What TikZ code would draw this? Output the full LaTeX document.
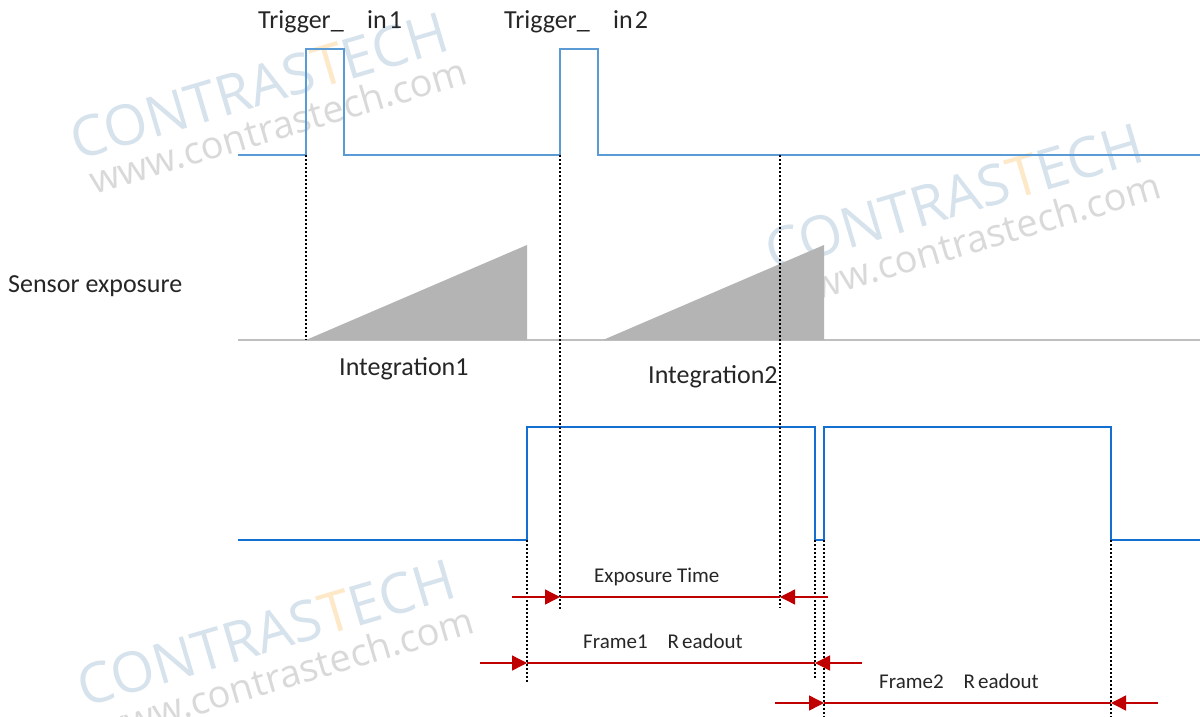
\documentclass[tikz,border=0pt]{standalone}
\usepackage{fontspec}
\setmainfont{Carlito}
\newfontfamily\wmfont{Open Sans}
\usetikzlibrary{arrows.meta}
\definecolor{trigblue}{RGB}{91,155,213}
\definecolor{sigblue}{RGB}{20,112,208}
\definecolor{arrred}{RGB}{192,0,0}
\definecolor{grayfill}{RGB}{180,180,180}
\definecolor{grayline}{RGB}{191,191,191}
\definecolor{txt}{RGB}{38,38,38}
\definecolor{wmblue}{RGB}{214,226,236}
\definecolor{wmorange}{RGB}{253,232,200}
\definecolor{wmgray}{RGB}{217,217,217}
\begin{document}
\begin{tikzpicture}[x=1pt,y=-1pt,
  trig/.style={draw=trigblue, line width=2pt},
  sig/.style={draw=sigblue, line width=2.6pt},
  base/.style={draw=grayline, line width=2pt},
  ramp/.style={fill=grayfill, draw=none},
  guide/.style={draw=black, line width=1.8pt, dash pattern=on 2pt off 2pt},
  dim/.style={draw=arrred, line width=1.4pt},
  tip/.style={draw=arrred, line width=1.4pt, -{Triangle[length=15pt,width=15pt]}},
  lbl/.style={anchor=base west, inner sep=0pt, text=txt, font=\fontsize{26}{30}\selectfont},
  slbl/.style={anchor=base west, inner sep=0pt, text=txt, font=\fontsize{21}{25}\selectfont},
  wmA/.style={anchor=base, inner sep=0pt, rotate=16.5, font=\wmfont\fontsize{56}{60}\selectfont},
  wmB/.style={anchor=base, inner sep=0pt, rotate=16.5, text=wmgray, font=\wmfont\fontsize{38}{42}\selectfont}
]
\useasboundingbox (0,0) rectangle (1200,717);
\fill[white] (0,0) rectangle (1200,717);

% watermarks
\foreach \px/\py/\qx/\qy [count=\i] in {265/105/282/139, 960/216/976/253, 272/652/289/688}{
  \node[wmA] (wmt\i) at (\px,\py) {\textcolor{wmblue}{CONTRAS}\textcolor{wmorange}{T}\textcolor{wmblue}{ECH}};
  \node[wmB] (wmw\i) at (\qx,\qy) {www.contrastech.com};
}

% coordinates
\coordinate (t0) at (238,155);
\coordinate (r1) at (306,155); \coordinate (r1h) at (306,49);
\coordinate (f1h) at (344,49); \coordinate (f1) at (344,155);
\coordinate (r2) at (560,155); \coordinate (r2h) at (560,49);
\coordinate (f2h) at (598,49); \coordinate (f2) at (598,155);
\coordinate (tend) at (1200,155);
\coordinate (xt) at (780,155);

\coordinate (s0) at (238,340); \coordinate (send) at (1200,340);
\coordinate (a1) at (306,340); \coordinate (a1t) at (527,245); \coordinate (a1b) at (527,340);
\coordinate (a2) at (603,340); \coordinate (a2t) at (824,245); \coordinate (a2b) at (824,340);

\coordinate (b0) at (238,540);
\coordinate (br1) at (527,540); \coordinate (br1h) at (527,427);
\coordinate (bf1h) at (815,427); \coordinate (bf1) at (815,540);
\coordinate (br2) at (824,540); \coordinate (br2h) at (824,427);
\coordinate (bf2h) at (1111,427); \coordinate (bf2) at (1111,540);
\coordinate (bend) at (1200,540);

% sensor exposure
\draw[base] (s0) -- (send);
\fill[ramp] (a1) -- (a1t) -- (a1b) -- cycle;
\fill[ramp] (a2) -- (a2t) -- (a2b) -- cycle;

% trigger signal
\draw[trig] (t0) -- (r1) -- (r1h) -- (f1h) -- (f1) -- (r2) -- (r2h) -- (f2h) -- (f2) -- (tend);

% output signal
\draw[sig] (b0) -- (br1) -- (br1h) -- (bf1h) -- (bf1) -- (br2) -- (br2h) -- (bf2h) -- (bf2) -- (bend);

% guide lines
\coordinate (g1e) at (306,340);
\coordinate (g2e) at (560,609);
\coordinate (g3e) at (780,608);
\coordinate (g4e) at (527,682);
\coordinate (g5e) at (815,678);
\coordinate (g6e) at (824,717);
\coordinate (g7e) at (1111,717);
\draw[guide] (r1) -- (g1e);
\draw[guide] (r2) -- (g2e);
\draw[guide] (xt) -- (g3e);
\draw[guide] (br1) -- (g4e);
\draw[guide] (bf1) -- (g5e);
\draw[guide] (br2) -- (g6e);
\draw[guide] (bf2) -- (g7e);

% dimension arrows
\coordinate (e0) at (512,597); \coordinate (e1) at (560,597);
\coordinate (e2) at (780,597); \coordinate (e3) at (828,597);
\draw[dim] (e1) -- (e2);
\draw[tip] (e0) -- (e1);
\draw[tip] (e3) -- (e2);

\coordinate (m0) at (480,663); \coordinate (m1) at (527,663);
\coordinate (m2) at (815,663); \coordinate (m3) at (862,663);
\draw[dim] (m1) -- (m2);
\draw[tip] (m0) -- (m1);
\draw[tip] (m3) -- (m2);

\coordinate (n0) at (775,703); \coordinate (n1) at (824,703);
\coordinate (n2) at (1111,703); \coordinate (n3) at (1158,703);
\draw[dim] (n1) -- (n2);
\draw[tip] (n0) -- (n1);
\draw[tip] (n3) -- (n2);

% labels
\node[lbl] (trg1) at (258,29) {Trigger\_};
\node[lbl] (in1) at (367,29) {in\kern2pt 1};
\node[lbl] (trg2) at (504,29) {Trigger\_};
\node[lbl] (in2) at (613,29) {in\kern2pt 2};
\node[lbl] (sens) at (8,292) {Sensor exposure};
\node[lbl] (int1) at (339,375) {Integration1};
\node[lbl] (int2) at (648,383) {Integration2};
\node[slbl] (expt) at (594,582) {Exposure Time};
\node[slbl] (fr1) at (583,648) {Frame1\hspace{20pt}R\kern3pt eadout};
\node[slbl] (fr2) at (879,688) {Frame2\hspace{20pt}R\kern3pt eadout};
\end{tikzpicture}
\end{document}
